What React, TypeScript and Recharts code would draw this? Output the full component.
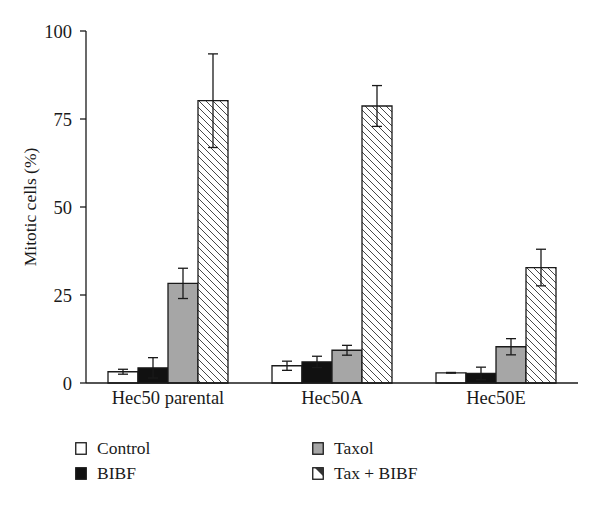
import { Bar, BarChart, ErrorBar, XAxis, YAxis } from "recharts";

const CATEGORIES = ["Hec50 parental", "Hec50A", "Hec50E"];
const CONTROL = [3.2, 4.9, 2.9];
const CONTROL_ERR = [0.7, 1.3, 0.1];
const BIBF = [4.3, 6.0, 2.7];
const BIBF_ERR = [2.9, 1.6, 1.8];
const TAXOL = [28.3, 9.3, 10.3];
const TAXOL_ERR = [4.3, 1.4, 2.3];
const TAX_BIBF = [80.2, 78.7, 32.8];
const TAX_BIBF_ERR = [13.3, 5.8, 5.2];
const Y_TICKS = [0, 25, 50, 75, 100];

const data = CATEGORIES.map((name, i) => ({
  name,
  control: CONTROL[i],
  controlErr: CONTROL_ERR[i],
  bibf: BIBF[i],
  bibfErr: BIBF_ERR[i],
  taxol: TAXOL[i],
  taxolErr: TAXOL_ERR[i],
  taxBibf: TAX_BIBF[i],
  taxBibfErr: TAX_BIBF_ERR[i],
}));

const FONT = '"Liberation Serif", "DejaVu Serif", serif';
const INK = "#1a1a1a";

function LegendIcon({ kind }: { kind: string }) {
  const fill =
    kind === "control" ? "#fff" : kind === "bibf" ? "#111" : kind === "taxol" ? "#a6a6a6" : "#fff";
  return (
    <svg width={12} height={13} style={{ display: "block" }}>
      <rect x={0.75} y={0.75} width={10.5} height={11.5} fill={fill} stroke={INK} strokeWidth={1.3} />
      {kind === "taxBibf" && <polygon points="3,1 11,1 11,9" fill="#333" />}
    </svg>
  );
}

const LEGEND_ITEMS = [
  { key: "control", label: "Control", left: 75, top: 441 },
  { key: "bibf", label: "BIBF", left: 75, top: 466 },
  { key: "taxol", label: "Taxol", left: 312, top: 441 },
  { key: "taxBibf", label: "Tax + BIBF", left: 312, top: 466 },
];

export default function App() {
  return (
    <div style={{ position: "absolute", left: 0, top: 0, width: 600, height: 505, background: "#fff" }}>
      <svg width={0} height={0} style={{ position: "absolute" }}>
        <defs>
          <pattern id="hatch" patternUnits="userSpaceOnUse" width={7} height={7}>
            <rect width={7} height={7} fill="#fff" />
            <path d="M0,0 L7,7 M-1,6 L1,8 M6,-1 L8,1" stroke="#333" strokeWidth={0.9} />
          </pattern>
        </defs>
      </svg>
      <BarChart
        width={600}
        height={505}
        data={data}
        margin={{ top: 31, right: 22, bottom: 92, left: 0 }}
        barCategoryGap={22}
        barGap={0}
        style={{ fontFamily: FONT }}
      >
        <XAxis
          dataKey="name"
          tickLine={false}
          axisLine={{ stroke: INK, strokeWidth: 1.3 }}
          tick={{ fill: INK, fontSize: 18.5, fontFamily: FONT }}
          height={30}
          interval={0}
        />
        <YAxis
          domain={[0, 100]}
          ticks={Y_TICKS}
          width={86}
          tickSize={6}
          tickMargin={8}
          axisLine={{ stroke: INK, strokeWidth: 1.3 }}
          tickLine={{ stroke: INK, strokeWidth: 1.3 }}
          tick={{ fill: INK, fontSize: 18.5, fontFamily: FONT }}
          label={{
            value: "Mitotic cells (%)",
            angle: -90,
            position: "center",
            dx: -13,
            fill: INK,
            fontSize: 17.5,
            fontFamily: FONT,
          }}
        />
        <Bar dataKey="control" name="Control" fill="#fff" stroke={INK} strokeWidth={1.3} barSize={30} isAnimationActive={false}>
          <ErrorBar dataKey="controlErr" width={5} stroke={INK} strokeWidth={1.3} />
        </Bar>
        <Bar dataKey="bibf" name="BIBF" fill="#111" stroke={INK} strokeWidth={1.3} barSize={30} isAnimationActive={false}>
          <ErrorBar dataKey="bibfErr" width={5} stroke={INK} strokeWidth={1.3} />
        </Bar>
        <Bar dataKey="taxol" name="Taxol" fill="#a6a6a6" stroke={INK} strokeWidth={1.3} barSize={30} isAnimationActive={false}>
          <ErrorBar dataKey="taxolErr" width={5} stroke={INK} strokeWidth={1.3} />
        </Bar>
        <Bar dataKey="taxBibf" name="Tax + BIBF" fill="url(#hatch)" stroke={INK} strokeWidth={1.3} barSize={30} isAnimationActive={false}>
          <ErrorBar dataKey="taxBibfErr" width={5} stroke={INK} strokeWidth={1.3} />
        </Bar>
      </BarChart>
      {LEGEND_ITEMS.map((item) => (
        <div
          key={item.key}
          style={{
            position: "absolute",
            left: item.left,
            top: item.top,
            display: "flex",
            alignItems: "center",
            gap: 10,
            fontFamily: FONT,
            fontSize: 17.5,
            color: INK,
            lineHeight: "14px",
          }}
        >
          <LegendIcon kind={item.key} />
          <span>{item.label}</span>
        </div>
      ))}
    </div>
  );
}
